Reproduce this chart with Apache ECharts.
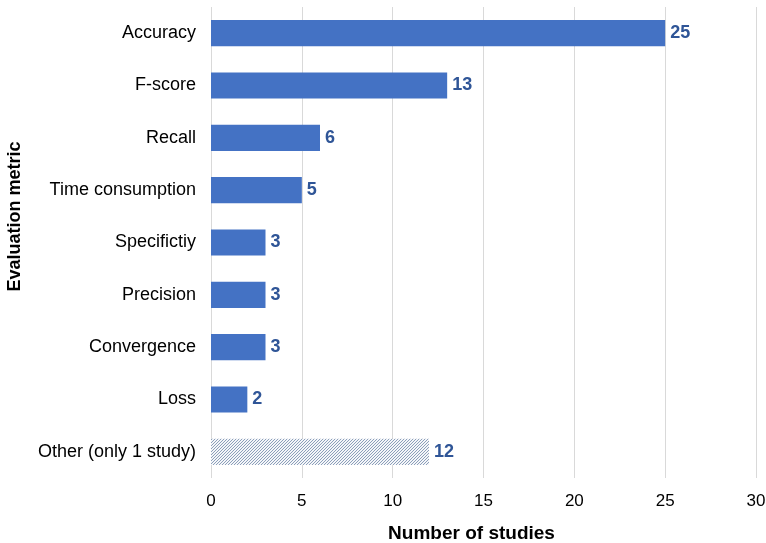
<!DOCTYPE html>
<html>
<head>
<meta charset="utf-8">
<style>
  html, body { margin: 0; padding: 0; background: #ffffff; }
  #chart { width: 766px; height: 543px; }
</style>
<script src="https://cdn.jsdelivr.net/npm/echarts@6/dist/echarts.min.js"></script>
</head>
<body>
<div id="chart"></div>
<script>
// Evaluation metrics reported across studies
const metrics = ['Accuracy', 'F-score', 'Recall', 'Time consumption', 'Specifictiy', 'Precision', 'Convergence', 'Loss', 'Other (only 1 study)'];
const studyCounts = [25, 13, 6, 5, 3, 3, 3, 2, 12];
const xTicks = [0, 5, 10, 15, 20, 25, 30];

// Diagonal hatch fill for the "Other" group
function hatchPattern() {
  const c = document.createElement('canvas');
  c.width = 3; c.height = 3;
  const g = c.getContext('2d');
  g.fillStyle = '#f4f6f9';
  g.fillRect(0, 0, 3, 3);
  g.fillStyle = '#8c9fba';
  // one-pixel stairs running bottom-left to top-right
  g.fillRect(0, 2, 1, 1);
  g.fillRect(1, 1, 1, 1);
  g.fillRect(2, 0, 1, 1);
  return c;
}

const hatch = { image: hatchPattern(), repeat: 'repeat' };
const font = 'Liberation Sans, Arial, Helvetica, sans-serif';

const barData = studyCounts.map((v, i) => {
  const isOther = i === metrics.length - 1;
  return {
    value: v,
    itemStyle: isOther ? { color: hatch } : { color: '#4472c4' }
  };
});

const chart = echarts.init(document.getElementById('chart'), null, { renderer: 'canvas' });
chart.setOption({
  animation: false,
  backgroundColor: '#ffffff',
  grid: { left: 211, right: 10, top: 7, bottom: 65, containLabel: false, outerBoundsMode: 'none' },
  xAxis: {
    type: 'value',
    min: xTicks[0],
    max: xTicks[xTicks.length - 1],
    interval: 5,
    axisLine: { show: false },
    axisTick: { show: false },
    splitLine: { show: true, lineStyle: { color: '#d9d9d9', width: 1 } },
    axisLabel: { color: '#000000', fontSize: 17, fontFamily: font, margin: 15 },
    name: 'Number of studies',
    nameLocation: 'middle',
    nameGap: 46,
    nameTextStyle: { color: '#000000', fontSize: 19, fontWeight: 'bold', fontFamily: font, padding: [0, 24, 0, 0] }
  },
  yAxis: {
    type: 'category',
    data: metrics,
    inverse: true,
    axisLine: { show: false },
    axisTick: { show: false },
    axisLabel: { color: '#000000', fontSize: 18, fontFamily: font, margin: 15 },
    name: 'Evaluation metric',
    nameLocation: 'middle',
    nameGap: 187,
    nameRotate: 90,
    nameTextStyle: { color: '#000000', fontSize: 18, fontWeight: 'bold', fontFamily: font, padding: [0, 0, 0, 52] }
  },
  series: [{
    type: 'bar',
    data: barData,
    barWidth: '50%',
    label: {
      show: true,
      position: 'right',
      distance: 5,
      color: '#2f5597',
      fontSize: 18,
      fontWeight: 'bold',
      fontFamily: font
    }
  }]
});
</script>
</body>
</html>
